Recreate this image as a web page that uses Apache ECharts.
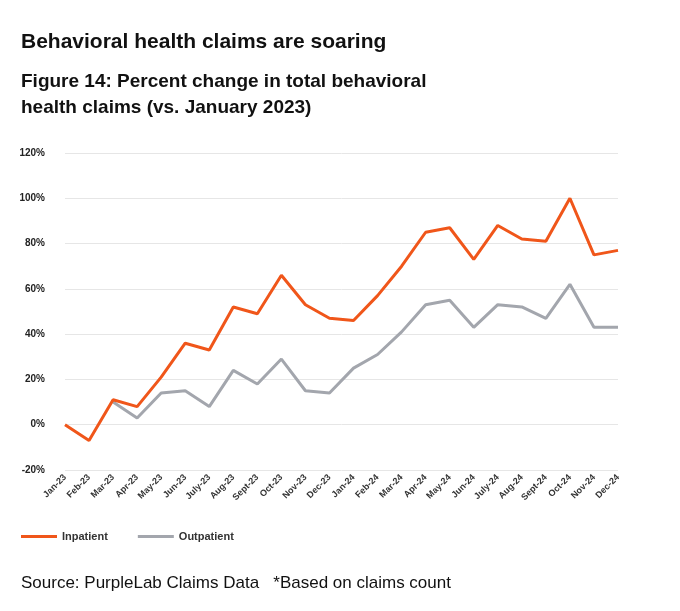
<!DOCTYPE html><html><head><meta charset="utf-8"><script src="https://cdn.jsdelivr.net/npm/echarts@6/dist/echarts.min.js"></script>
<style>body{margin:0;background:#fff}#c{width:680px;height:611px}</style></head><body><div id="c"></div><script>
const categories=['Jan-23','Feb-23','Mar-23','Apr-23','May-23','Jun-23','July-23','Aug-23','Sept-23','Oct-23','Nov-23','Dec-23','Jan-24','Feb-24','Mar-24','Apr-24','May-24','Jun-24','July-24','Aug-24','Sept-24','Oct-24','Nov-24','Dec-24'];
const inpatient=[0,-7,11,8,21,36,33,52,49,66,53,47,46,57,70,85,87,73,88,82,81,100,75,77];
const outpatient=[null,null,10,3,14,15,8,24,18,29,15,14,25,31,41,53,55,43,53,52,47,62,43,43];
const c=echarts.init(document.getElementById('c'));
c.setOption({animation:false,
title:[{text:'Behavioral health claims are soaring',left:16,top:27,textStyle:{fontFamily:'Liberation Sans',fontSize:21,fontWeight:'bold',color:'#111'}},
{text:'Figure 14: Percent change in total behavioral\nhealth claims (vs. January 2023)',left:16,top:64,textStyle:{fontFamily:'Liberation Sans',fontSize:19,fontWeight:'bold',color:'#111',lineHeight:26}},
{text:'Source: PurpleLab Claims Data   *Based on claims count',left:16,top:570,textStyle:{fontFamily:'Liberation Sans',fontSize:17,fontWeight:'normal',color:'#111'}}],
legend:{left:16,top:526,itemWidth:36,itemHeight:3,itemGap:30,icon:'rect',textStyle:{fontFamily:'Liberation Sans',fontSize:11,fontWeight:'bold',color:'#333'},data:['Inpatient','Outpatient']},
grid:{left:65,right:62,top:153,bottom:141},
xAxis:{type:'category',data:categories,boundaryGap:false,axisLine:{show:false},axisTick:{show:false},axisLabel:{rotate:45,interval:0,fontSize:9,fontWeight:'bold',color:'#333',fontFamily:'Liberation Sans',margin:6}},
yAxis:{type:'value',min:-20,max:120,interval:20,axisLabel:{formatter:'{value}%',fontSize:10,fontWeight:'bold',color:'#222',fontFamily:'Liberation Sans',margin:20},splitLine:{lineStyle:{color:'#e6e6e6'}}},
series:[{name:'Outpatient',type:'line',data:outpatient,symbol:'none',lineStyle:{color:'#a3a6ad',width:3},itemStyle:{color:'#a3a6ad'}},
{name:'Inpatient',type:'line',data:inpatient,symbol:'none',lineStyle:{color:'#f0561a',width:3},itemStyle:{color:'#f0561a'}}]});
</script></body></html>
